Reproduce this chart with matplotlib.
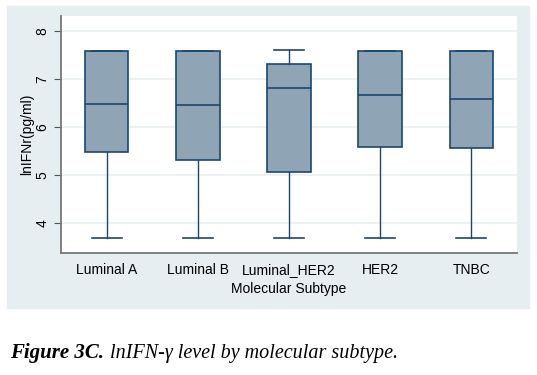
import matplotlib.pyplot as plt

# Data
subtypes = ["Luminal A", "Luminal B", "Luminal_HER2", "HER2", "TNBC"]
whislo = [3.69, 3.69, 3.69, 3.69, 3.69]
q1 = [5.47, 5.31, 5.06, 5.58, 5.57]
med = [6.47, 6.45, 6.81, 6.67, 6.58]
q3 = [7.59, 7.59, 7.32, 7.59, 7.59]
whishi = [7.59, 7.59, 7.60, 7.59, 7.59]

navy = "#1a476f"
fill = "#8fa5b5"
bg = "#e6eef1"

fig = plt.figure(figsize=(5.37, 3.75), dpi=100)
fig.patch.set_facecolor("white")

# Stata-like outer panel
panel = plt.Rectangle((7 / 537, 1 - 308 / 375), 522 / 537, 302 / 375,
                      transform=fig.transFigure, color=bg, zorder=-10)
fig.patches.append(panel)

ax = fig.add_axes([61 / 537, 1 - 253 / 375, 456 / 537, 237 / 375])
ax.set_zorder(1)
ax.set_facecolor("white")

stats = []
for i in range(len(subtypes)):
    stats.append({"label": subtypes[i], "whislo": whislo[i], "q1": q1[i],
                  "med": med[i], "q3": q3[i], "whishi": whishi[i], "fliers": []})

ax.bxp(stats, positions=range(1, 6), widths=0.48, patch_artist=True,
       showfliers=False,
       boxprops=dict(facecolor=fill, edgecolor=navy, linewidth=1.2),
       medianprops=dict(color=navy, linewidth=1.2),
       whiskerprops=dict(color=navy, linewidth=1.0),
       capprops=dict(color=navy, linewidth=1.2),
       capwidths=0.33)

ax.set_xlim(0.5, 5.5)
ax.set_ylim(3.375, 8.31)
ax.set_yticks([4, 5, 6, 7, 8])
ax.yaxis.grid(True, color="#eaf1f3", linewidth=1.3)
ax.set_axisbelow(True)

for lab in ax.get_yticklabels():
    lab.set_rotation(90)
    lab.set_va("center")
ax.tick_params(axis="y", labelsize=10, length=5, color="#555555",
               labelfontfamily="Liberation Sans")
ax.tick_params(axis="x", length=0, labelsize=10, pad=7,
               labelfontfamily="Liberation Sans")

for s in ["top", "right"]:
    ax.spines[s].set_visible(False)
for s in ["left", "bottom"]:
    ax.spines[s].set_color("#777777")
    ax.spines[s].set_linewidth(1.3)

ax.set_xlabel("Molecular Subtype", fontsize=10, family="Liberation Sans", labelpad=4)
ax.set_ylabel("lnIFNr(pg/ml)", fontsize=10, family="Liberation Sans", labelpad=1)

fig.text(10 / 537, 1 - 358 / 375, "Figure 3C.", fontsize=15,
         family="Liberation Serif", style="italic", weight="bold", va="baseline")
fig.text(110 / 537, 1 - 358 / 375, "lnIFN-γ level by molecular subtype.",
         fontsize=14.5, family="Liberation Serif", style="italic", va="baseline")

plt.savefig("out.png", dpi=100)
